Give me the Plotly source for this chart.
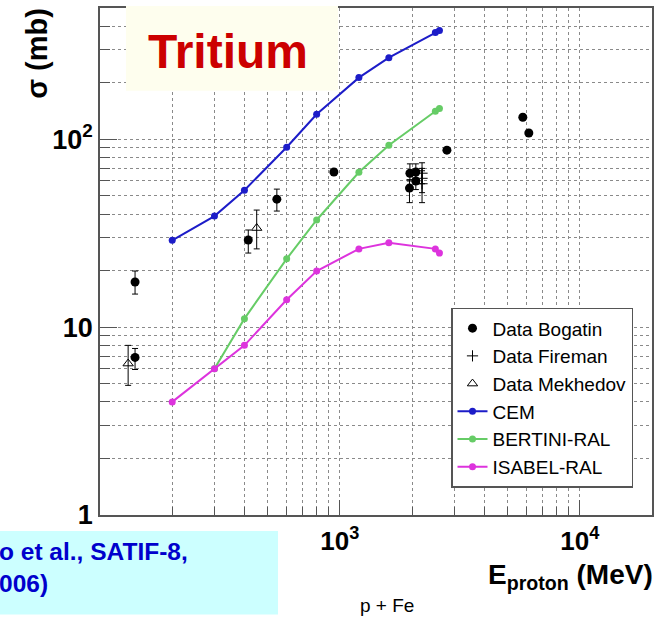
import plotly.graph_objects as go

# ---------------- data ----------------
model_E = [200, 300, 400, 600, 800, 1200, 1600, 2500, 2600]
cem_sigma = [29, 39, 53.6, 90.7, 136, 213, 272, 370, 379]
bert_E = [300, 400, 600, 800, 1200, 1600, 2500, 2600]
bert_sigma = [6.0, 11.1, 23.1, 37.2, 66.8, 93, 141, 146]
isabel_sigma = [4.0, 6.0, 8.0, 14.0, 19.9, 26.1, 28.1, 26.1, 24.8]

bog_E = [140, 140, 415, 546, 944, 1958, 2073, 2073, 1950, 2793, 5788, 6131]
bog_sigma = [17.4, 6.9, 29.1, 48.0, 67.0, 66.0, 67.0, 60.0, 55.0, 87.5, 131, 108]
bog_up = [2.5, 0.8, 3.8, 6.3, 0, 8, 7, 6, 6, 0, 0, 0]
bog_dn = [2.4, 0.95, 4.3, 6.5, 0, 6, 5, 6, 9, 0, 0, 0]

fir_E = [2200, 2200, 2200]
fir_sigma = [66, 62, 58]
fir_up = [9, 8, 10]
fir_dn = [8, 10, 12]

mek_E = [131, 450]
mek_sigma = [6.4, 33.7]
mek_up = [1.6, 8.3]
mek_dn = [1.5, 7.6]

y_major = [1, 10, 100]
y_major_text = ["1", "10", "10<sup>2</sup>"]
y_minor = [2, 3, 4, 5, 6, 7, 8, 9, 20, 30, 40, 50, 60, 70, 80, 90, 200, 300, 400]
x_major = [1000, 10000]
x_major_text = ["10<sup>3</sup>", "10<sup>4</sup>"]
x_minor = [200, 300, 400, 500, 600, 700, 800, 900,
           2000, 3000, 4000, 5000, 6000, 7000, 8000, 9000]

# ---------------- style ----------------
FONT = "Liberation Sans, Arial, Helvetica, sans-serif"
BLUE = "#1c1cc8"
GREEN = "#66cc66"
MAGENTA = "#dd33dd"

fig = go.Figure()

fig.add_trace(go.Scatter(
    x=bog_E, y=bog_sigma, mode="markers", name="Data Bogatin",
    marker=dict(symbol="circle", size=9, color="black"),
    error_y=dict(type="data", symmetric=False, array=bog_up, arrayminus=bog_dn,
                 color="black", thickness=1, width=3)))
fig.add_trace(go.Scatter(
    x=fir_E, y=fir_sigma, mode="markers", name="Data Fireman",
    marker=dict(symbol="cross-thin", size=8, color="black",
                line=dict(width=1, color="black")),
    error_y=dict(type="data", symmetric=False, array=fir_up, arrayminus=fir_dn,
                 color="black", thickness=1, width=3)))
fig.add_trace(go.Scatter(
    x=mek_E, y=mek_sigma, mode="markers", name="Data Mekhedov",
    marker=dict(symbol="triangle-up-open", size=9, color="black",
                line=dict(width=1, color="black")),
    error_y=dict(type="data", symmetric=False, array=mek_up, arrayminus=mek_dn,
                 color="black", thickness=1, width=3)))
fig.add_trace(go.Scatter(
    x=model_E, y=cem_sigma, mode="lines+markers", name="CEM",
    line=dict(color=BLUE, width=2), marker=dict(size=7, color=BLUE)))
fig.add_trace(go.Scatter(
    x=bert_E, y=bert_sigma, mode="lines+markers", name="BERTINI-RAL",
    line=dict(color=GREEN, width=2), marker=dict(size=7, color=GREEN)))
fig.add_trace(go.Scatter(
    x=model_E, y=isabel_sigma, mode="lines+markers", name="ISABEL-RAL",
    line=dict(color=MAGENTA, width=2), marker=dict(size=7, color=MAGENTA)))

axis_common = dict(
    showline=True, mirror=True, linecolor="#555555", linewidth=1.5,
    ticks="inside", tickcolor="#555555", tickwidth=1,
    showgrid=True, gridcolor="#8a8a8a", gridwidth=1, griddash="dot",
    zeroline=False, tickmode="array",
)

fig.update_xaxes(
    type="log", range=[2, 4.30103],
    tickvals=x_major, ticktext=x_major_text, ticklen=15,
    tickfont=dict(family=FONT, size=26, color="black", weight="bold"),
    ticklabelstandoff=2,
    minor=dict(tickmode="array", tickvals=x_minor, ticks="inside", ticklen=8,
               tickcolor="#555555", showgrid=True, gridcolor="#8a8a8a",
               griddash="dot", gridwidth=1),
    **axis_common)
fig.update_yaxes(
    type="log", range=[0, 2.69897],
    tickvals=y_major, ticktext=y_major_text, ticklen=17,
    tickfont=dict(family=FONT, size=27, color="black", weight="bold"),
    minor=dict(tickmode="array", tickvals=y_minor, ticks="inside", ticklen=10,
               tickcolor="#555555", showgrid=True, gridcolor="#8a8a8a",
               griddash="dot", gridwidth=1),
    **axis_common)

W, H = 660, 622
L, R, T, B = 100, 8, 6, 107
pw, ph = W - L - R, H - T - B


def px(x):
    return (x - L) / pw


def py(y):
    return (H - B - y) / ph


shapes = [
    # Tritium label box
    dict(type="rect", xref="paper", yref="paper", layer="above",
         x0=px(126), x1=px(338), y0=py(89), y1=py(4),
         fillcolor="#fefeee", line=dict(width=0)),
    # reference box
    dict(type="rect", xref="paper", yref="paper", layer="above",
         x0=px(0), x1=px(278), y0=py(615), y1=py(531),
         fillcolor="#ccffff", line=dict(width=0)),
]

annotations = [
    dict(text="Tritium", xref="paper", yref="paper", x=px(228), y=py(50),
         xanchor="center", yanchor="middle", showarrow=False,
         font=dict(family=FONT, size=48, color="#cc0000", weight="bold")),
    dict(text="o et al., SATIF-8,<br>006)", xref="paper", yref="paper",
         x=px(-3), y=py(536), xanchor="left", yanchor="top", align="left",
         showarrow=False,
         font=dict(family=FONT, size=24.5, color="#0000cc", weight="bold")),
    dict(text="p + Fe", xref="paper", yref="paper", x=px(387), y=py(606),
         xanchor="center", yanchor="middle", showarrow=False,
         font=dict(family=FONT, size=19, color="black")),
    dict(text="σ (mb)", xref="paper", yref="paper", x=px(37), y=py(52),
         xanchor="center", yanchor="middle", textangle=-90, showarrow=False,
         font=dict(family=FONT, size=29, color="black", weight="bold")),
    dict(text="E<sub>proton</sub> (MeV)", xref="paper", yref="paper",
         x=px(655), y=py(557), xanchor="right", yanchor="top", showarrow=False,
         font=dict(family=FONT, size=28, color="black", weight="bold")),
]

fig.update_layout(
    width=W, height=H, autosize=False,
    margin=dict(l=L, r=R, t=T, b=B),
    paper_bgcolor="white", plot_bgcolor="white",
    font=dict(family=FONT, color="black"),
    shapes=shapes, annotations=annotations,
    showlegend=True,
    legend=dict(x=px(451), y=py(307), xanchor="left", yanchor="top",
                bgcolor="white", bordercolor="#555555", borderwidth=1.5,
                font=dict(family=FONT, size=19, color="black"),
                tracegroupgap=0, itemwidth=30),
)

fig.write_html("out.html")
